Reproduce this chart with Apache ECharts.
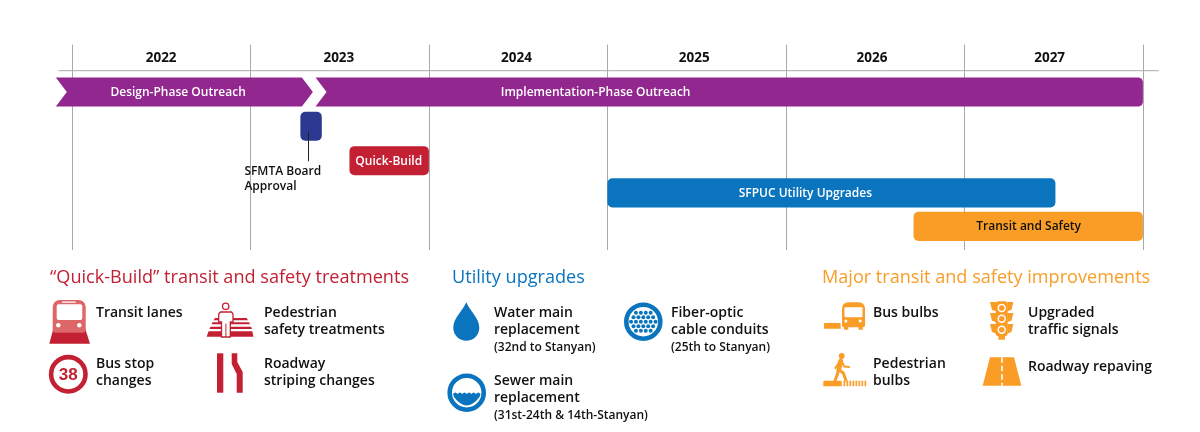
<!DOCTYPE html>
<html>
<head>
<meta charset="utf-8">
<title>Project timeline</title>
<script src="https://cdn.jsdelivr.net/npm/echarts@6/dist/echarts.min.js"></script>
<style>
html,body{margin:0;padding:0;background:#fff;}
#container{width:1200px;height:432px;}
</style>
</head>
<body>
<div id="container"></div>
<script>
// timeline data (fractional years)
var years = ['2022','2023','2024','2025','2026','2027'];
var barNames = ['Design-Phase Outreach','Implementation-Phase Outreach','','Quick-Build','SFPUC Utility Upgrades','Transit and Safety'];
var barStarts = [2021.91,2023.365,2023.28,2023.555,2025.0,2026.715];
var barEnds = [2023.35,2028.0,2023.40,2024.0,2027.51,2028.0];
var barRows = [1.383,1.383,2.383,3.39,4.33,5.31];
var barLabelAt = [2022.595,2024.934,2023.34,2023.775,2026.109,2027.36];
var milestoneLines = ['SFMTA Board','Approval'];

// legend text
var quickTitle = '\u201cQuick-Build\u201d transit and safety treatments';
var utilityTitle = 'Utility upgrades';
var majorTitle = 'Major transit and safety improvements';
var quickItems = [['Transit lanes'],['Pedestrian','safety treatments'],['Bus stop','changes'],['Roadway','striping changes']];
var utilityItems = [['Water main','replacement'],['Fiber-optic','cable conduits'],['Sewer main','replacement']];
var utilityNotes = ['(32nd to Stanyan)','(25th to Stanyan)','(31st-24th & 14th-Stanyan)'];
var majorItems = [['Bus bulbs'],['Upgraded','traffic signals'],['Pedestrian','bulbs'],['Roadway repaving']];

var RED = '#c32033', BLUE = '#0a75be', ORANGE = '#f99d26', PURPLE = '#92278f', NAVY = '#2b3990';
var barColors = [PURPLE,PURPLE,NAVY,RED,BLUE,ORANGE];
var barTextColors = ['#fff','#fff','#fff','#fff','#fff','#111'];
var FONT = '"Open Sans"';

// icon outlines the graphic component has no ready shape for
echarts.graphic.registerShape('waterDrop', echarts.graphic.extendShape({
	buildPath:function(ctx){
		ctx.moveTo(466.3,302.3);
		ctx.bezierCurveTo(462,312,453.3,318,453.3,327.7);
		ctx.arc(466.3,327.7,13,Math.PI,0,true);
		ctx.bezierCurveTo(479.3,318,470.6,312,466.3,302.3);
		ctx.closePath();
	}
}));
echarts.graphic.registerShape('sewerWater', echarts.graphic.extendShape({
	buildPath:function(ctx){
		ctx.moveTo(453,394);
		var x = 453;
		for(var i=0;i<6;i++){
			ctx.quadraticCurveTo(x+2.3,391,x+4.6,394);
			x += 4.6;
		}
		ctx.lineTo(479.5,397);
		ctx.quadraticCurveTo(466.7,414,454,397);
		ctx.closePath();
	}
}));

function renderBar(params, api){
	var i = params.dataIndex;
	var a = api.coord([barStarts[i], barRows[i]]);
	var b = api.coord([barEnds[i], barRows[i]]);
	var h = api.size([0, 0.85])[1];
	var top = a[1] - h/2, bot = a[1] + h/2, mid = a[1];
	var children = [];
	if(i == 0){
		children.push({type:'polygon', shape:{points:[[a[0],top],[b[0]-11,top],[b[0],mid],[b[0]-11,bot],[a[0],bot],[a[0]+11,mid]]}, style:{fill:barColors[i]}});
	} else if(i == 1){
		children.push({type:'polygon', shape:{points:[[a[0],top],[b[0]-4,top],[b[0]-1.2,top+1.2],[b[0],top+4],[b[0],bot-4],[b[0]-1.2,bot-1.2],[b[0]-4,bot],[a[0],bot],[a[0]+11,mid]]}, style:{fill:barColors[i]}});
	} else {
		children.push({type:'rect', shape:{x:a[0],y:top,width:b[0]-a[0],height:h,r:5}, style:{fill:barColors[i]}});
	}
	if(barNames[i]){
		var c = api.coord([barLabelAt[i], barRows[i]]);
		children.push({type:'text', x:c[0], y:c[1]+0.5, style:{text:barNames[i], fill:barTextColors[i], font:'600 12px '+FONT, textAlign:'center', textVerticalAlign:'middle'}});
	}
	// board approval stem and its note
	if(i == 2){
		var sx = Math.round(a[0]+8)+0.5;
		children.push({type:'line', shape:{x1:sx,y1:mid+5,x2:sx,y2:mid+35}, style:{stroke:'#222',lineWidth:1}});
		for(var k=0;k<milestoneLines.length;k++){
			children.push({type:'text', x:a[0]-56, y:mid+45+k*15.7, style:{text:milestoneLines[k], fill:'#111', font:'600 12px '+FONT, textAlign:'left', textVerticalAlign:'middle'}});
		}
	}
	return {type:'group', children:children};
}

// graphic helpers
function label(x,y,s,size,weight,color){
	return {type:'text', x:x, y:y, silent:true, style:{text:s, fill:color||'#111', font:(weight||600)+' '+size+'px '+FONT, textAlign:'left', textVerticalAlign:'middle'}};
}
function poly(pts,fill){ return {type:'polygon', silent:true, shape:{points:pts}, style:{fill:fill}}; }
function box(x,y,w,h,fill,r){ return {type:'rect', silent:true, shape:{x:x,y:y,width:w,height:h,r:r||0}, style:{fill:fill}}; }
function dot(x,y,r,fill){ return {type:'circle', silent:true, shape:{cx:x,cy:y,r:r}, style:{fill:fill}}; }
function ring(x,y,r,w,color){ return {type:'circle', silent:true, shape:{cx:x,cy:y,r:r}, style:{fill:'#fff',stroke:color,lineWidth:w}}; }
function stroke(pts,w,color){ return {type:'polyline', silent:true, shape:{points:pts}, style:{fill:'none',stroke:color,lineWidth:w,lineCap:'round',lineJoin:'round'}}; }

function legendTexts(){
	var out = [];
	out.push(label(50,277.5,quickTitle,18.1,400,RED));
	out.push(label(452,277.5,utilityTitle,18.1,400,BLUE));
	out.push(label(822,277.5,majorTitle,18.1,400,ORANGE));
	function block(x,y,lines){
		for(var i=0;i<lines.length;i++) out.push(label(x,y+i*17.5,lines[i],14));
	}
	block(96,313,quickItems[0]);
	block(264,313,quickItems[1]);
	block(96,364,quickItems[2]);
	block(264,364,quickItems[3]);
	block(494,313,utilityItems[0]);
	block(671,313,utilityItems[1]);
	block(494,381,utilityItems[2]);
	out.push(label(494,348,utilityNotes[0],12));
	out.push(label(671,348,utilityNotes[1],12));
	out.push(label(494,416,utilityNotes[2],12));
	block(873,313,majorItems[0]);
	block(1028,313,majorItems[1]);
	block(873,364,majorItems[2]);
	block(1028,367,majorItems[3]);
	return out;
}

function quickIcons(){
	var g = [];
	// bus in lane
	g.push(poly([[53.5,328],[85,328],[90,343.7],[49.3,343.7]],RED));
	g.push(box(52.7,300,33,32.7,'#dd6668',[7,7,3,3]));
	g.push(box(56.7,304.3,25.6,15.7,'#fff',2));
	g.push(box(62,301.5,13.7,1.3,'#fff'));
	g.push(dot(58.3,325.3,2.2,'#fff'), dot(79.3,325.3,2.2,'#fff'));
	// crosswalk with pedestrian
	g.push(poly([[215,318],[246.7,318],[248,320.3],[213.5,320.3]],RED));
	g.push(poly([[212.5,322.3],[249,322.3],[250,324.3],[211.5,324.3]],RED));
	g.push(poly([[210.5,326.7],[251,326.7],[252,329],[209.5,329]],RED));
	g.push(poly([[208.5,331.3],[252.3,331.3],[253.5,336.7],[206.7,336.7]],RED));
	g.push({type:'polygon', silent:true, shape:{points:[[218.7,314],[220.5,312],[231.5,312],[233,314],[233,322],[230.3,322],[230.3,337],[221.5,337],[221.5,322],[218.7,322]]}, style:{fill:'#fff',stroke:RED,lineWidth:1.3}});
	g.push(stroke([[225.9,324],[225.9,336.7]],1,RED));
	g.push(ring(225.7,306.3,3.2,1.3,RED));
	// stop number
	g.push(ring(68.3,374.3,17.2,4.6,RED));
	g.push({type:'text', x:68.3, y:375, silent:true, style:{text:'38', fill:RED, font:'bold 17px "Liberation Sans"', textAlign:'center', textVerticalAlign:'middle'}});
	// striping change
	g.push(box(217,353.3,6.3,39.4,RED));
	g.push(poly([[231.7,353.3],[237.3,353.3],[237.3,362],[242.7,372],[242.7,392.7],[236.7,392.7],[236.7,374],[231.7,364]],RED));
	return g;
}

function utilityIcons(){
	var g = [];
	// water drop
	g.push({type:'waterDrop', silent:true, shape:{}, style:{fill:BLUE}});
	// fiber bundle
	g.push(ring(643.3,321.7,17,4.6,BLUE));
	var counts = [4,5,6,5,4];
	for(var r=0;r<counts.length;r++){
		for(var c=0;c<counts[r];c++){
			g.push(dot(643.3+(c-(counts[r]-1)/2)*4.9,321.7+(r-2)*4.5,2,BLUE));
		}
	}
	// sewer pipe
	g.push(ring(466.7,392.7,17,4.6,BLUE));
	g.push({type:'sewerWater', silent:true, shape:{}, style:{fill:BLUE}});
	return g;
}

function majorIcons(){
	var g = [];
	// bus at bulb
	g.push(box(824,323,16.7,5.7,ORANGE,[1,1,0,0]));
	g.push(box(842,302.3,23,25,ORANGE,[6,6,2,2]));
	g.push(box(844.5,307.3,18,10,'#fff',1));
	g.push(dot(845.9,321,1.5,'#fff'), dot(860.2,321,1.5,'#fff'));
	g.push(box(844,326,4.3,3.7,ORANGE), box(858.5,326,4.3,3.7,ORANGE));
	// traffic signal
	g.push(poly([[990,302],[996,302],[996,311.3],[992,310]],ORANGE));
	g.push(poly([[1013.4,302],[1007.4,302],[1007.4,311.3],[1011.4,310]],ORANGE));
	g.push(poly([[990,313],[996,313],[996,322],[992,320.8]],ORANGE));
	g.push(poly([[1013.4,313],[1007.4,313],[1007.4,322],[1011.4,320.8]],ORANGE));
	g.push(poly([[990,324],[996,324],[996,333.5],[992,332]],ORANGE));
	g.push(poly([[1013.4,324],[1007.4,324],[1007.4,333.5],[1011.4,332]],ORANGE));
	g.push(box(995.7,301.3,12,35,ORANGE,3));
	g.push(box(998.3,335,6.7,4.7,ORANGE));
	g.push(dot(1001.7,308,4.2,'#fff'), dot(1001.7,318.7,4.2,'#fff'), dot(1001.7,329.7,4.2,'#fff'));
	g.push(dot(1001.7,308,2.7,ORANGE), dot(1001.7,318.7,2.7,ORANGE), dot(1001.7,329.7,2.7,ORANGE));
	// pedestrian at bulb
	g.push(box(823.3,380.7,18.4,5.5,ORANGE,[1,1,0,0]));
	for(var i=0;i<8;i++) g.push(box(843.5+i*3,380.7,1.7,5.5,ORANGE));
	g.push(dot(841.7,356,2.9,ORANGE));
	g.push(stroke([[840.7,361],[838.8,369.5]],4.8,ORANGE));
	g.push(stroke([[838.5,370],[837.2,375],[835.2,380]],3,ORANGE));
	g.push(stroke([[839,370],[843.3,373],[845.8,380]],3,ORANGE));
	g.push(stroke([[840,361],[835.3,368]],2,ORANGE));
	g.push(stroke([[841.5,361],[844.3,366.5],[849,367]],2,ORANGE));
	// road
	g.push(poly([[990,357.3],[1014,357.3],[1021.3,385.7],[982.7,385.7]],ORANGE));
	g.push({type:'line', silent:true, shape:{x1:1002,y1:357.3,x2:1002,y2:385.7}, style:{stroke:'#fff',lineWidth:1.6,lineDash:[5.5,3]}});
	return g;
}

var dom = document.getElementById('container');
var myChart = echarts.init(dom);

var option = {
	animation:false,
	backgroundColor:'#fff',
	textStyle:{fontFamily:FONT},
	// second grid only carries the year labels, which run slightly tighter than the year lines
	grid:[{left:71.9,width:1071,top:44.7,height:205.3},{left:72.3,width:1066.2,top:44.7,height:205.3}],
	xAxis:[{
		type:'value',
		gridIndex:0,
		min:2022,
		max:2028,
		interval:1,
		axisLine:{show:false},
		axisTick:{show:false},
		axisLabel:{show:false},
		splitLine:{show:true,lineStyle:{color:'#a9a9a9',width:1}}
	},{
		type:'category',
		gridIndex:1,
		position:'top',
		data:years,
		axisLine:{show:false},
		axisTick:{show:false},
		splitLine:{show:false},
		axisLabel:{inside:true,interval:0,margin:6,color:'#111',fontSize:13.5,fontWeight:'bold',fontFamily:FONT}
	}],
	yAxis:[
		{type:'value',gridIndex:0,inverse:true,min:0,max:6,show:false},
		{type:'value',gridIndex:1,show:false}
	],
	series:[{
		type:'custom',
		xAxisIndex:0,
		yAxisIndex:0,
		clip:false,
		renderItem:renderBar,
		encode:{x:0,y:1},
		data:barStarts.map(function(v,i){ return [v,barRows[i]]; })
	}],
	graphic:[{type:'line',silent:true,shape:{x1:58.5,y1:70.7,x2:1158.7,y2:70.7},style:{stroke:'#a9a9a9',lineWidth:1}}]
		.concat(legendTexts(),quickIcons(),utilityIcons(),majorIcons())
};
myChart.setOption(option);
</script>
</body>
</html>
